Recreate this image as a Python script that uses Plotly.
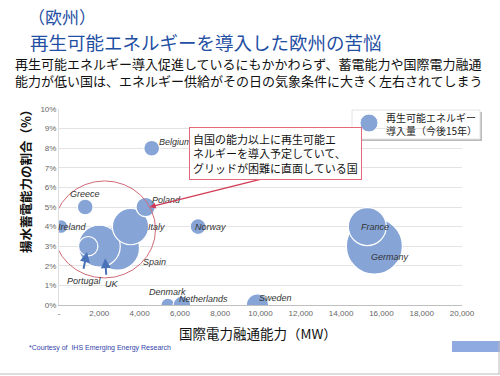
import plotly.graph_objects as go

countries = ["Germany", "France", "Spain", "UK", "Portugal", "Italy", "Greece", "Poland",
             "Ireland", "Belgium", "Norway", "Denmark", "Netherlands", "Sweden"]
interconnect_mw = [15650, 15300, 2900, 2000, 1450, 3550, 1300, 4300,
                   100, 4600, 6900, 5400, 6100, 9850]
pumped_share = [3.0, 4.0, 2.9, 3.0, 3.0, 4.0, 5.0, 5.0,
                4.0, 8.0, 4.0, 0.0, 0.0, 0.0]
renewable_add = [50, 23, 31, 28, 6, 21, 4, 6, 3, 4, 4, 3, 5, 8]

# label offsets (pixels) relative to the bubble center
label_dx = [16, 8, 37, 0, 0, 26, 0, 21, 11, 24, 12, 0, 22, 18]
label_dy = [11, 0, 14, 0, 0, 0, -13, -7, 0, -6, 0, -13, -6, -7]

x_ticks = list(range(0, 20001, 2000))
x_ticktext = ["-"] + [f"{v:,}" for v in x_ticks[1:]]
y_ticks = list(range(0, 11))
y_ticktext = [f"{v}%" for v in y_ticks]

JP = "Noto Sans CJK JP"
BUBBLE = "#86A4D6"

W, H = 500, 376
L, R, T, B = 59, 38, 109, 71
PW, PH = W - L - R, H - T - B


def px(x):
    return (x - L) / PW


def py(y):
    return (H - B - y) / PH


fig = go.Figure()
fig.add_trace(go.Scatter(
    x=interconnect_mw, y=pumped_share, mode="markers",
    marker=dict(size=renewable_add, sizemode="area", sizeref=2 * 50 / 56**2,
                color=BUBBLE, opacity=1, line=dict(color="white", width=1.2)),
    hoverinfo="text", text=countries, showlegend=False,
))

annotations = []
for c, xv, yv, dx, dy in zip(countries, interconnect_mw, pumped_share, label_dx, label_dy):
    if c in ("Portugal", "UK"):
        continue
    annotations.append(dict(x=xv, y=yv, xref="x", yref="y", text=f"<i>{c}</i>",
                            showarrow=False, xshift=dx, yshift=-dy,
                            font=dict(family="Liberation Sans", size=9, color="#333333")))


def ptext(x, y, text, size, color, family=JP, xanchor="center", **kw):
    return dict(x=px(x), y=py(y), xref="paper", yref="paper", text=text, showarrow=False,
                xanchor=xanchor, yanchor="middle",
                font=dict(family=family, size=size, color=color), **kw)


# callout arrow to Poland (drawn beneath the box)
annotations.append(dict(x=4500, y=5.0, xref="x", yref="y", text="", showarrow=True,
                        axref="pixel", ayref="pixel", ax=120, ay=-30, arrowhead=2,
                        arrowsize=1, arrowwidth=1.2, arrowcolor="#D03A55"))

# Portugal and UK labels with blue arrows
annotations += [
    dict(x=1450, y=3.0, xref="x", yref="y", text="", showarrow=True,
         axref="pixel", ayref="pixel", ax=-5, ay=24, arrowhead=2, arrowsize=1,
         arrowwidth=2, arrowcolor="#4A72B8", standoff=6),
    ptext(84, 281, "<i>Portugal</i>", 9, "#333333", family="Liberation Sans"),
    dict(x=2250, y=3.0, xref="x", yref="y", text="", showarrow=True,
         axref="pixel", ayref="pixel", ax=2, ay=30, arrowhead=2, arrowsize=1,
         arrowwidth=2, arrowcolor="#4A72B8", standoff=12),
    ptext(112, 284, "<i>UK</i>", 9, "#333333", family="Liberation Sans"),
]

# Titles and texts
annotations += [
    ptext(26, 16, "（欧州）", 17, "#1F4FA3", xanchor="left"),
    ptext(28, 42, "再生可能エネルギーを導入した欧州の苦悩", 18.5, "#1F4FA3", xanchor="left"),
    ptext(13, 72, "再生可能エネルギー導入促進しているにもかかわらず、蓄電能力や国際電力融通<br>"
                  "能力が低い国は、エネルギー供給がその日の気象条件に大きく左右されてしまう",
          13, "#111111", xanchor="left", align="left"),
    ptext(25, 178, "<b>揚水蓄電能力の割合（%）</b>", 12.5, "#111111", textangle=-90),
    ptext(258, 333, "国際電力融通能力（MW）", 13.5, "#111111"),
    ptext(27, 348, "*Courtesy of  IHS Emerging Energy Research", 7, "#3344AA",
          family="Liberation Sans", xanchor="left"),
    # legend text
    ptext(384, 124, "再生可能エネルギー<br>導入量（今後15年）", 10, "#222222",
          xanchor="left", align="left"),
    # callout box
    ptext(275, 153, "自国の能力以上に再生可能エ<br>ネルギーを導入予定していて、<br>グリッドが困難に直面している国",
          11, "#111111", align="left", bgcolor="white", bordercolor="#E36A78",
          borderwidth=1, borderpad=3),
]

shapes = [
    # red highlight circle
    dict(type="circle", xref="x", yref="y", x0=-270, x1=4790, y0=1.38, y1=6.33,
         line=dict(color="#D06A78", width=1)),
    # legend box shadow + box
    dict(type="rect", xref="paper", yref="paper", x0=px(354), x1=px(482),
         y0=py(141), y1=py(112), fillcolor="#BBBBBB", line=dict(width=0), layer="below"),
    dict(type="rect", xref="paper", yref="paper", x0=px(352), x1=px(480),
         y0=py(139), y1=py(110), fillcolor="white", line=dict(color="#E4E4E4", width=1),
         layer="below"),
    dict(type="circle", xref="paper", yref="paper", x0=px(360), x1=px(378),
         y0=py(132), y1=py(114), fillcolor=BUBBLE, line=dict(color="white", width=1)),
    # callout shadow line
    dict(type="line", xref="paper", yref="paper", x0=px(196), x1=px(357),
         y0=py(177), y1=py(177), line=dict(color="#D03A55", width=1.2)),
    # slide decorations
    dict(type="rect", xref="paper", yref="paper", x0=px(452), x1=px(500),
         y0=py(352), y1=py(341), fillcolor="#8FAAE0", line=dict(width=0)),
    dict(type="line", xref="paper", yref="paper", x0=px(0), x1=px(500), y0=py(374), y1=py(374),
         line=dict(color="#BBBBBB", width=1)),
    dict(type="line", xref="paper", yref="paper", x0=px(499), x1=px(499),
         y0=py(374), y1=py(342), line=dict(color="#BBBBBB", width=1)),
]

fig.update_layout(
    width=W, height=H,
    margin=dict(l=L, r=R, t=T, b=B),
    paper_bgcolor="white", plot_bgcolor="white",
    annotations=annotations, shapes=shapes,
    showlegend=False,
    xaxis=dict(range=[0, 20000], tickvals=x_ticks, ticktext=x_ticktext,
               showgrid=False, zeroline=False, showline=True, linecolor="#BFBFBF",
               ticks="", tickfont=dict(family="Liberation Sans", size=8, color="#666666"),
               fixedrange=True),
    yaxis=dict(range=[0, 10], tickvals=y_ticks, ticktext=y_ticktext, showgrid=True,
               gridcolor="#E3E3E3", zeroline=False, showline=True, linecolor="#DDDDDD",
               ticks="", tickfont=dict(family="Liberation Sans", size=8, color="#666666"),
               fixedrange=True),
)

fig.write_html("out.html", config={"displayModeBar": False},
               post_script="document.body.style.margin='0';")
